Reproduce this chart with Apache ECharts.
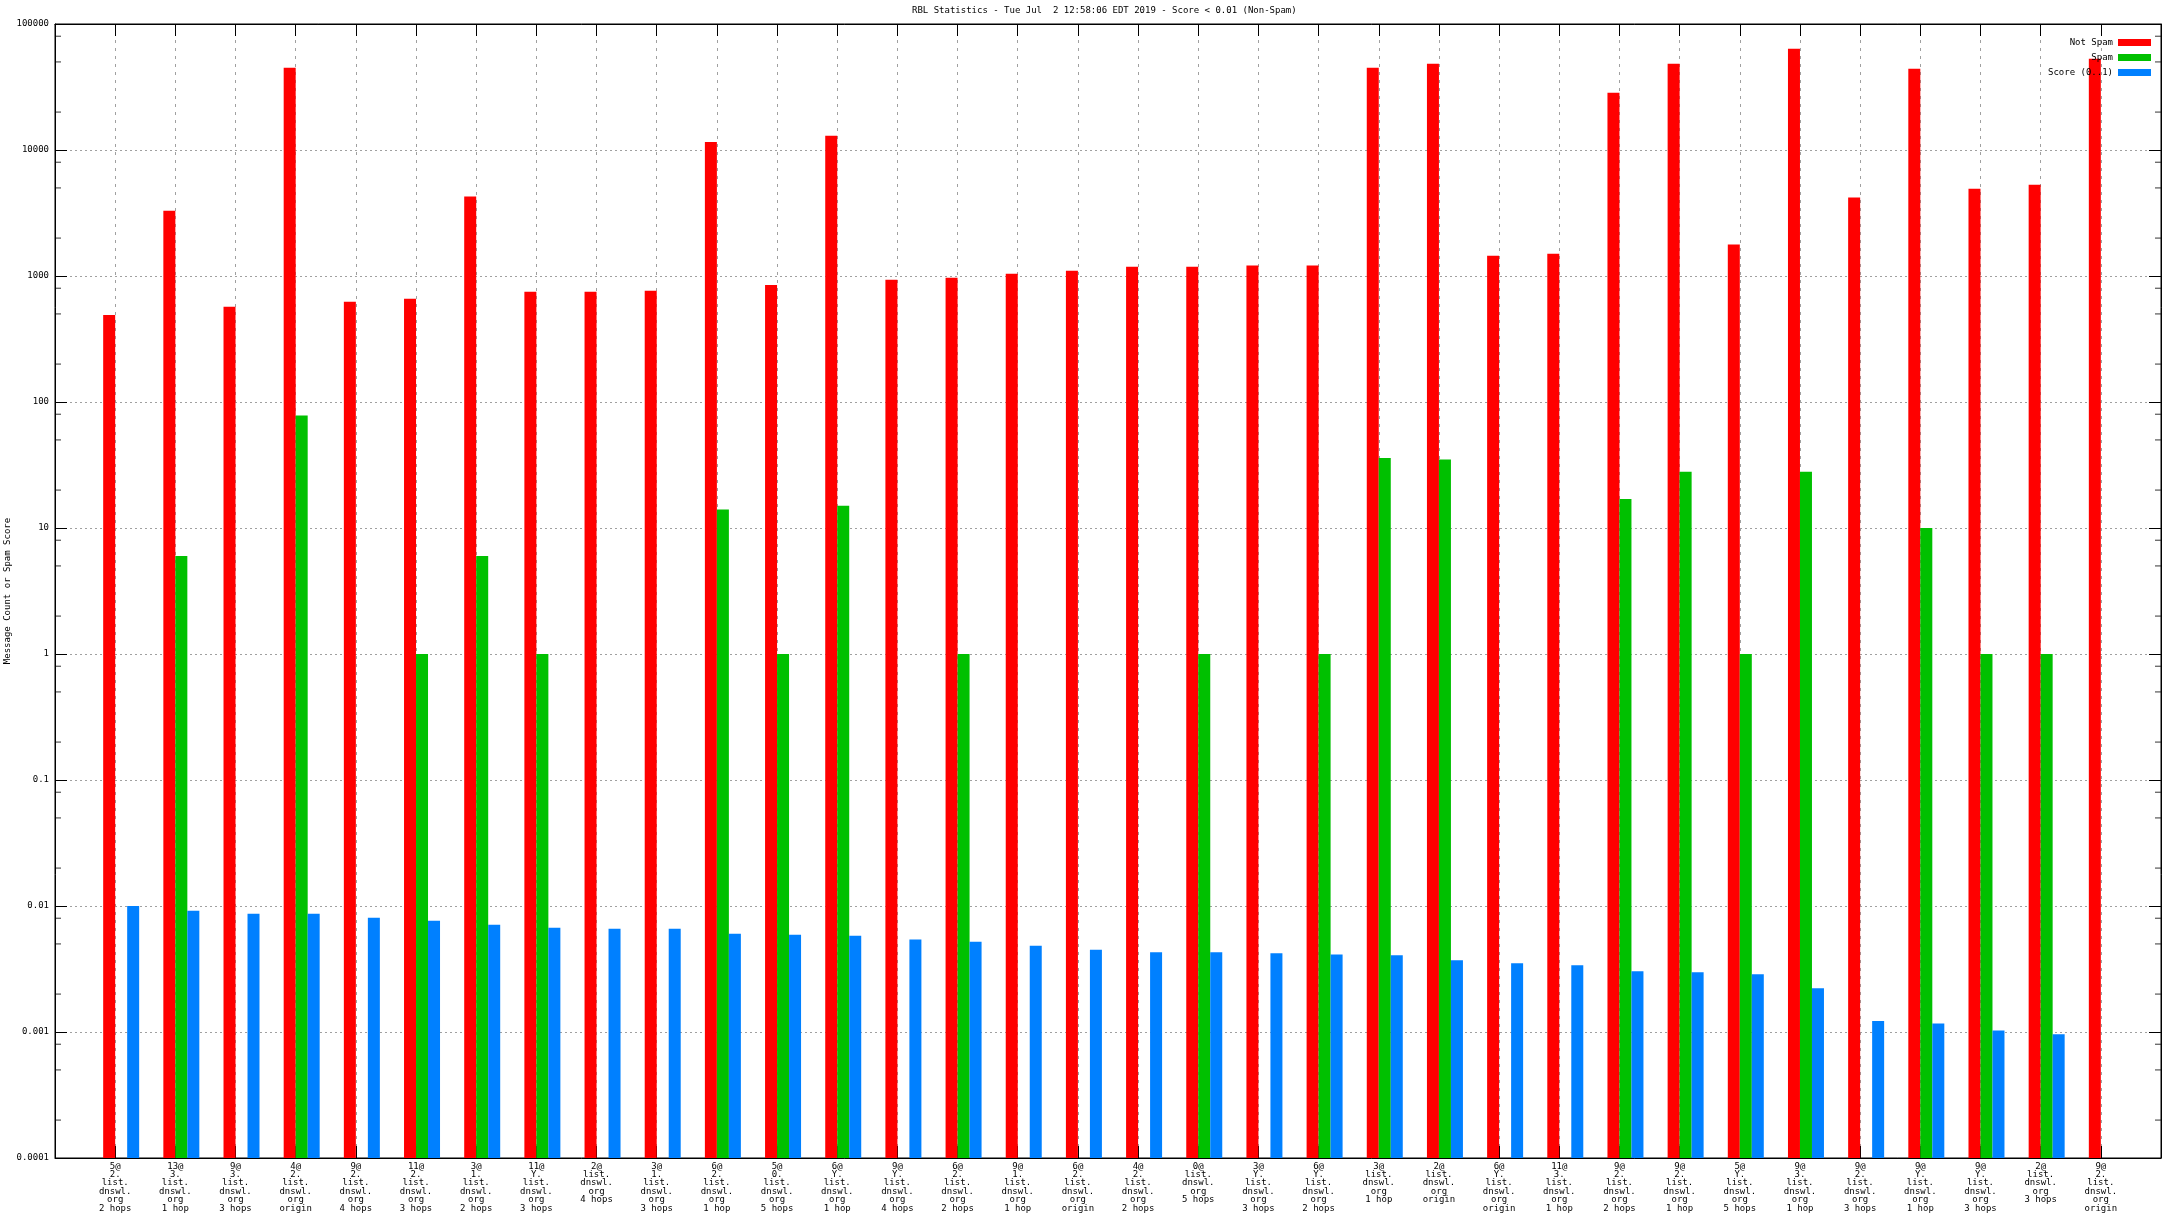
<!DOCTYPE html>
<html><head><meta charset="utf-8">
<script src="https://cdn.jsdelivr.net/npm/echarts@6/dist/echarts.min.js"></script>
<style>html,body{margin:0;padding:0;background:#fff}#c{width:2176px;height:1224px}</style>
</head><body><div id="c"></div>
<script>
const categories = [
  "5@\n2.\nlist.\ndnswl.\norg\n2 hops",
  "13@\n3.\nlist.\ndnswl.\norg\n1 hop",
  "9@\n3.\nlist.\ndnswl.\norg\n3 hops",
  "4@\n2.\nlist.\ndnswl.\norg\norigin",
  "9@\n2.\nlist.\ndnswl.\norg\n4 hops",
  "11@\n2.\nlist.\ndnswl.\norg\n3 hops",
  "3@\n1.\nlist.\ndnswl.\norg\n2 hops",
  "11@\nY.\nlist.\ndnswl.\norg\n3 hops",
  "2@\nlist.\ndnswl.\norg\n4 hops",
  "3@\n1.\nlist.\ndnswl.\norg\n3 hops",
  "6@\n2.\nlist.\ndnswl.\norg\n1 hop",
  "5@\n0.\nlist.\ndnswl.\norg\n5 hops",
  "6@\nY.\nlist.\ndnswl.\norg\n1 hop",
  "9@\nY.\nlist.\ndnswl.\norg\n4 hops",
  "6@\n2.\nlist.\ndnswl.\norg\n2 hops",
  "9@\n1.\nlist.\ndnswl.\norg\n1 hop",
  "6@\n2.\nlist.\ndnswl.\norg\norigin",
  "4@\n2.\nlist.\ndnswl.\norg\n2 hops",
  "0@\nlist.\ndnswl.\norg\n5 hops",
  "3@\nY.\nlist.\ndnswl.\norg\n3 hops",
  "6@\nY.\nlist.\ndnswl.\norg\n2 hops",
  "3@\nlist.\ndnswl.\norg\n1 hop",
  "2@\nlist.\ndnswl.\norg\norigin",
  "6@\nY.\nlist.\ndnswl.\norg\norigin",
  "11@\n3.\nlist.\ndnswl.\norg\n1 hop",
  "9@\n2.\nlist.\ndnswl.\norg\n2 hops",
  "9@\n2.\nlist.\ndnswl.\norg\n1 hop",
  "5@\nY.\nlist.\ndnswl.\norg\n5 hops",
  "9@\n3.\nlist.\ndnswl.\norg\n1 hop",
  "9@\n2.\nlist.\ndnswl.\norg\n3 hops",
  "9@\nY.\nlist.\ndnswl.\norg\n1 hop",
  "9@\nY.\nlist.\ndnswl.\norg\n3 hops",
  "2@\nlist.\ndnswl.\norg\n3 hops",
  "9@\n2.\nlist.\ndnswl.\norg\norigin"
];
const notSpam = [490, 3300, 570, 45000, 625, 660, 4270, 750, 750, 765,
  11600, 850, 13000, 935, 970, 1040, 1100, 1185, 1185, 1210,
  1210, 45000, 48400, 1450, 1500, 28500, 48400, 1775, 63700, 4190,
  44200, 4930, 5300, 53100];
const spam = [null, 6, null, 78, null, 1, 6, 1, null, null,
  14, 1, 15, null, 1, null, null, null, 1, null,
  1, 36, 35, null, null, 17, 28, 1, 28, null,
  10, 1, 1, null];
const score = [0.0100, 0.00918, 0.00869, 0.00869, 0.00808, 0.00765, 0.00711, 0.00673, 0.00661, 0.00661,
  0.00603, 0.00592, 0.00581, 0.00541, 0.00521, 0.00484, 0.00450, 0.00429, 0.00429, 0.00421,
  0.00413, 0.00406, 0.00371, 0.00351, 0.00338, 0.00303, 0.00298, 0.00287, 0.00222, 0.00122,
  0.00117, 0.00103, 0.000958, null];
const yTickLabels = ['0.0001','0.001','0.01','0.1','1','10','100','1000','10000','100000'];
const yMinorTicks = [
  0.0002, 0.0005, 0.0008, 0.002, 0.005, 0.008, 0.02, 0.05, 0.08,
  0.2, 0.5, 0.8, 2, 5, 8, 20, 50, 80, 200, 500, 800,
  2000, 5000, 8000, 20000, 50000, 80000
];
const seriesNames = ['Not Spam', 'Spam', 'Score (0..1)'];
const titleText = 'RBL Statistics - Tue Jul  2 12:58:06 EDT 2019 - Score < 0.01 (Non-Spam)';
const yName = 'Message Count or Spam Score';

const FONT = '"DejaVu Sans Mono", monospace';
const pad = arr => [null].concat(arr, [null]);
const cats = pad(categories).map(c => c === null ? '' : c);
const lastIdx = cats.length - 1;

const chart = echarts.init(document.getElementById('c'), null, {renderer: 'canvas'});
const barCommon = {type: 'bar', barWidth: 12, barGap: '0%', xAxisIndex: 0, yAxisIndex: 0};
const minorTickSeries = (idx, off) => ({
  type: 'scatter', name: '_minor' + idx, silent: true, xAxisIndex: 0, yAxisIndex: 0,
  symbol: 'rect', symbolSize: [6, 1], symbolOffset: [off, 0],
  itemStyle: {color: '#000'}, z: 5,
  data: yMinorTicks.map(v => [idx, v])
});
chart.setOption({
  backgroundColor: '#ffffff',
  animation: false,
  title: {
    text: titleText, left: 912, top: 6, padding: 0,
    textStyle: {fontFamily: FONT, fontSize: 9, fontWeight: 'normal', color: '#000'}
  },
  legend: {
    data: seriesNames, orient: 'vertical', right: 25, top: 38, padding: 0,
    align: 'right', itemWidth: 33, itemHeight: 7, itemGap: 6, icon: 'rect',
    selectedMode: false,
    textStyle: {fontFamily: FONT, fontSize: 9, color: '#000', lineHeight: 9}
  },
  grid: {left: 55, right: 15, top: 24, bottom: 66, show: true, borderColor: '#000', borderWidth: 1,
    containLabel: false, outerBoundsMode: 'none'},
  xAxis: [{
    type: 'category', data: cats, boundaryGap: false, position: 'bottom',
    axisLine: {show: true, lineStyle: {color: '#000', width: 1}},
    axisTick: {show: true, inside: true, length: 12, interval: 0, lineStyle: {color: '#000'}},
    axisLabel: {interval: 0, hideOverlap: false, color: '#000', fontFamily: FONT, fontSize: 9, lineHeight: 8.4, margin: 4},
    splitLine: {show: true, interval: 0, lineStyle: {color: '#a0a0a0', type: [3, 5], width: 1}}
  }, {
    type: 'category', data: cats, boundaryGap: false, position: 'top',
    axisLine: {show: true, lineStyle: {color: '#000', width: 1}},
    axisTick: {show: true, inside: true, length: 12, interval: 0, lineStyle: {color: '#000'}},
    axisLabel: {show: false}, splitLine: {show: false}
  }],
  yAxis: [{
    type: 'log', logBase: 10, min: 0.0001, max: 100000, startValue: 0.0001,
    name: yName, nameLocation: 'middle', nameRotate: 90, nameGap: 43, nameMoveOverlap: false,
    nameTextStyle: {fontFamily: FONT, fontSize: 9, color: '#000'},
    axisLine: {show: true, lineStyle: {color: '#000', width: 1}},
    axisTick: {show: true, inside: true, length: 12, lineStyle: {color: '#000'}},
    axisLabel: {color: '#000', fontFamily: FONT, fontSize: 9, margin: 6,
      formatter: v => yTickLabels[Math.round(Math.log10(v)) + 4] || ''},
    splitLine: {show: true, lineStyle: {color: '#a0a0a0', type: [2, 3], width: 1}}
  }, {
    type: 'log', logBase: 10, min: 0.0001, max: 100000, position: 'right',
    axisLine: {show: true, lineStyle: {color: '#000', width: 1}},
    axisTick: {show: true, inside: true, length: 12, lineStyle: {color: '#000'}},
    axisLabel: {show: false}, splitLine: {show: false}
  }],
  series: [
    Object.assign({}, barCommon, {name: '_pad', data: pad(categories.map(() => null)), itemStyle: {color: 'rgba(0,0,0,0)'}}),
    Object.assign({}, barCommon, {name: seriesNames[0], data: pad(notSpam), itemStyle: {color: '#ff0000'}}),
    Object.assign({}, barCommon, {name: seriesNames[1], data: pad(spam), itemStyle: {color: '#00c000'}}),
    Object.assign({}, barCommon, {name: seriesNames[2], data: pad(score), itemStyle: {color: '#0080ff'}}),
    minorTickSeries(0, 3),
    minorTickSeries(lastIdx, -3)
  ]
});
</script></body></html>
